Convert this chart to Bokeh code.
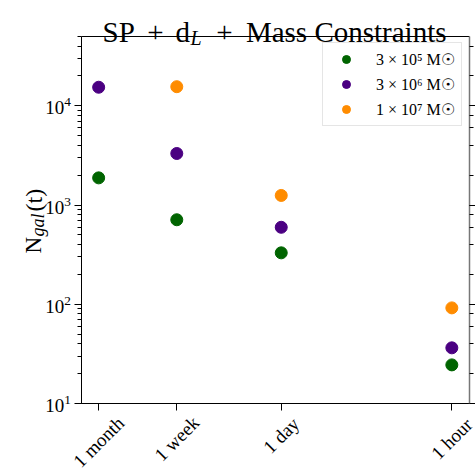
import numpy as np
from bokeh.plotting import figure
from bokeh.models import (Range1d, LogAxis, FixedTicker, LogTicker, Label, Legend,
                          LegendItem, CustomJSTickFormatter)
from bokeh.embed import file_html
from bokeh.resources import INLINE

# ---------------- data ----------------
time_labels = ["1 month", "1 week", "1 day", "1 hour"]
time_hours = [720, 168, 24, 1]

series_names = ["3 × 10⁵ M☉", "3 × 10⁶ M☉", "1 × 10⁷ M☉"]
series_colors = ["#006400", "#4b0082", "#ff8c00"]

hours_3e5 = [720, 168, 24, 1]
n_gal_3e5 = [1880, 711, 330, 24.5]
hours_3e6 = [720, 168, 24, 1]
n_gal_3e6 = [15400, 3310, 597, 36.4]
hours_1e7 = [168, 24, 1]
n_gal_1e7 = [15600, 1250, 92]

y_min, y_max = 10, 5e4

# ---------------- layout constants (pixels) ----------------
W, H = 475, 473
BOX_L, BOX_R, BOX_T, BOX_B = 80.5, 469.0, 36.0, 403.0
FONT = "Liberation Serif"
TICK_FS = 19

# x: log(hours), reversed, 5% padding; frame covers whole canvas,
# the axes box is drawn with fixed-location axes.
lo, hi = np.log10(min(time_hours)), np.log10(max(time_hours))
pad = 0.05 * (hi - lo)
xl, xr = hi + pad, lo - pad
ppd_x = (BOX_R - BOX_L) / (xl - xr)
x_start = 10 ** (xl + BOX_L / ppd_x)
x_end = 10 ** (xr - (W - BOX_R) / ppd_x)
box_x_left, box_x_right = 10 ** xl, 10 ** xr

yb, yt = np.log10(y_min), np.log10(y_max)
ppd_y = (BOX_B - BOX_T) / (yt - yb)
y_start = 10 ** (yb - (H - BOX_B) / ppd_y)
y_end = 10 ** (yt + BOX_T / ppd_y)

p = figure(width=W, height=H, title=None,
           x_axis_type="log", y_axis_type="log",
           x_range=Range1d(x_start, x_end),
           y_range=Range1d(y_start, y_end),
           output_backend="svg", toolbar_location=None,
           min_border=0, min_border_left=0, min_border_right=0,
           min_border_top=0, min_border_bottom=0)

p.xgrid.visible = False
p.ygrid.visible = False
p.outline_line_color = None
p.background_fill_color = "white"
p.border_fill_color = "white"

blank = CustomJSTickFormatter(code="return ''")

# bottom axis
xa = p.xaxis[0]
xa.fixed_location = y_min
xa.bounds = (box_x_right, box_x_left)
xa.ticker = FixedTicker(ticks=time_hours, minor_ticks=[])
xa.formatter = blank
xa.major_tick_out = 7
xa.major_tick_in = 0
xa.axis_line_color = "black"
xa.major_tick_line_color = "black"

# left axis
ya = p.yaxis[0]
ya.fixed_location = box_x_left
ya.bounds = (y_min, y_max)
ya.major_tick_out = 7
ya.major_tick_in = 0
ya.minor_tick_out = 4
ya.minor_tick_in = 0
ya.major_label_standoff = 3
ya.major_label_text_font = FONT
ya.major_label_text_font_size = f"{TICK_FS}px"
ya.major_label_text_color = "black"
ya.axis_line_color = "black"
ya.major_tick_line_color = "black"
ya.minor_tick_line_color = "black"

# right axis (ticks only)
ra = LogAxis(ticker=LogTicker(), formatter=CustomJSTickFormatter(code="return ''"),
             fixed_location=box_x_right, bounds=(y_min, y_max))
ra.major_tick_out = 7
ra.major_tick_in = 0
ra.minor_tick_out = 4
ra.minor_tick_in = 0
ra.axis_line_color = "#777777"
ra.axis_line_width = 1.5
ra.major_tick_line_color = "black"
ra.minor_tick_line_color = "black"
p.add_layout(ra, "right")

# top spine (no ticks)
ta = LogAxis(ticker=FixedTicker(ticks=[], minor_ticks=[]),
             formatter=CustomJSTickFormatter(code="return ''"),
             fixed_location=y_max, bounds=(box_x_right, box_x_left))
ta.axis_line_color = "black"
ta.major_tick_line_color = None
ta.minor_tick_line_color = None
p.add_layout(ta, "above")

# ---------------- points ----------------
renderers = []
for xs, ys, c in zip([hours_3e5, hours_3e6, hours_1e7],
                     [n_gal_3e5, n_gal_3e6, n_gal_1e7], series_colors):
    r = p.scatter(xs, ys, size=12, fill_color=c, line_color=c)
    renderers.append(r)

legend = Legend(items=[LegendItem(label=n, renderers=[r]) for n, r in zip(series_names, renderers)],
                location=(322, H - 126))
legend.margin = 0
legend.padding = 6
legend.spacing = 5
legend.glyph_width = 34
legend.glyph_height = 20
legend.label_height = 20
legend.label_standoff = 13
legend.label_text_font = FONT
legend.label_text_font_size = "16px"
legend.label_text_color = "black"
legend.border_line_color = "#cccccc"
legend.border_line_width = 1
legend.background_fill_alpha = 0.8
p.add_layout(legend)

# ---------------- rotated x tick labels ----------------
for t, lab in zip(time_hours, time_labels):
    w = 0.5 * TICK_FS * len(lab)
    center_page_y = BOX_B + 10 + 0.7071 * (w + 0.75 * TICK_FS) / 2
    p.add_layout(Label(x=t, y=H - center_page_y, x_units="data", y_units="screen", text=lab,
                       angle=np.pi / 4, text_align="center", text_baseline="middle",
                       text_font=FONT, text_font_size=f"{TICK_FS}px", text_color="black"))

# ---------------- text helper (page pixel coordinates) ----------------
def add_text(px, py, text, size, style="normal", angle=0.0, align="left"):
    p.add_layout(Label(x=px, y=H - py, x_units="screen", y_units="screen", text=text,
                       angle=angle, text_align=align, text_baseline="alphabetic",
                       text_font=FONT, text_font_size=f"{size}px",
                       text_font_style=style, text_color="black"))

# y label: N_gal(t)
add_text(33, 253, "N", 23, angle=np.pi / 2)
add_text(37, 236, "gal", 18, style="italic", angle=np.pi / 2)
add_text(33, 211, "(t)", 24, angle=np.pi / 2)

# title: SP + d_L + Mass Constraints
add_text(102, 31.5, "SP", 29)
add_text(155, 31.5, "+", 29, align="center")
add_text(175, 31.5, "d", 29)
add_text(190, 37.5, "L", 20, style="italic")
add_text(224, 31.5, "+", 29, align="center")
add_text(446, 31.5, "Mass Constraints", 29, align="right")

open("out.html", "w").write(file_html(p, INLINE))
